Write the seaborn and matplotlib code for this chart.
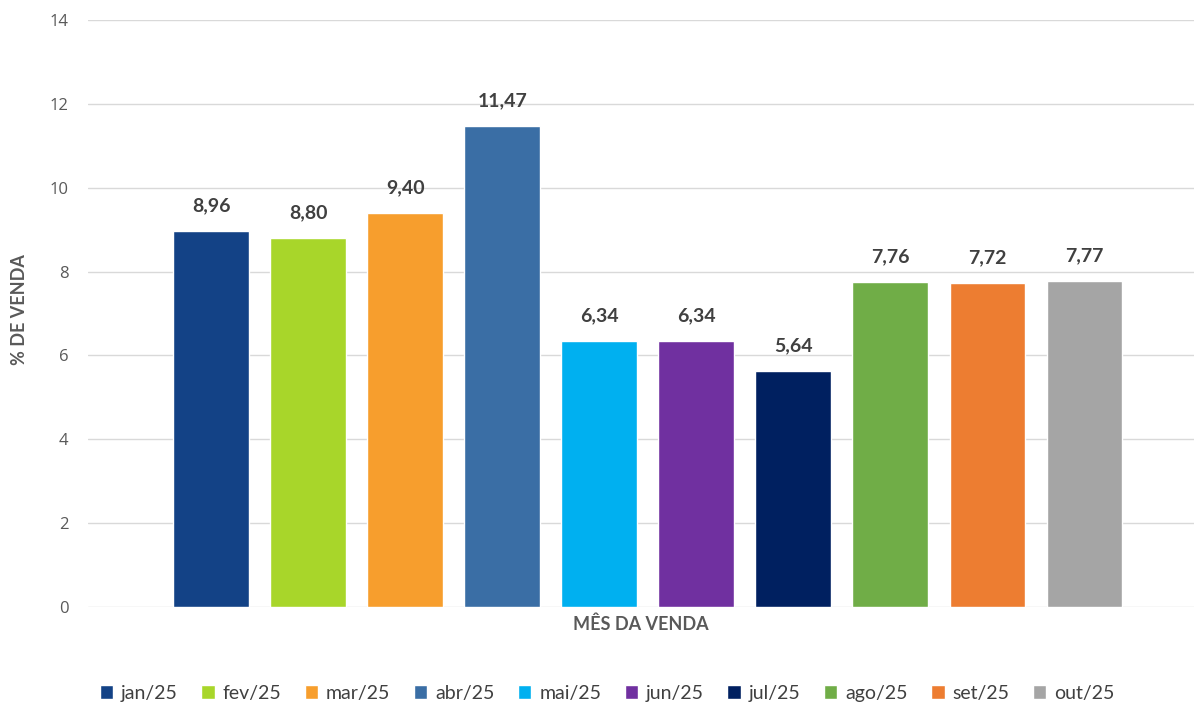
import matplotlib
matplotlib.use("Agg")
import matplotlib.pyplot as plt
from matplotlib.patches import Patch
import seaborn as sns
import pandas as pd

# Dados do gráfico
meses = ["jan/25", "fev/25", "mar/25", "abr/25", "mai/25",
         "jun/25", "jul/25", "ago/25", "set/25", "out/25"]
pct_venda = [8.96, 8.80, 9.40, 11.47, 6.34, 6.34, 5.64, 7.76, 7.72, 7.77]
cores = ["#134286", "#A8D62A", "#F79E2D", "#3A6EA5", "#00B0F0",
         "#7030A0", "#002060", "#70AD47", "#ED7D31", "#A5A5A5"]

sns.set_style("white")
plt.rcParams["font.family"] = ["Lato", "DejaVu Sans"]

df = pd.DataFrame({"mes": meses, "pct": pct_venda})
paleta = dict(zip(meses, cores))

fig = plt.figure(figsize=(11.94, 7.05), dpi=100)
ax = fig.add_axes([88 / 1194, 98 / 705, 1 - 88 / 1194, (607 - 20) / 705])

sns.barplot(data=df, x="mes", y="pct", hue="mes", palette=paleta,
            dodge=False, legend=False, width=0.78, saturation=1, ax=ax)

# Rótulos de dados
for i, v in enumerate(pct_venda):
    ax.text(i, v + 0.4, f"{v:.2f}".replace(".", ","), ha="center", va="bottom",
            fontsize=14, fontweight="bold", color="#404040")

ax.set_ylim(0, 14)
ax.set_yticks(range(0, 15, 2))
ax.set_xlim(-1.27, 10.13)
ax.yaxis.grid(True, color="#D9D9D9", linewidth=1)
ax.set_axisbelow(True)
ax.set_xticks([])
for s in ax.spines.values():
    s.set_visible(False)
ax.tick_params(axis="y", labelsize=12, labelcolor="#595959", length=0, pad=14)
for lbl in ax.get_yticklabels():
    lbl.set_family(["Open Sans", "DejaVu Sans"])

ax.set_xlabel("MÊS DA VENDA", fontsize=13, fontweight="bold", color="#595959", labelpad=6)
ax.set_ylabel("")
fig.text(20 / 1194, 1 - 310 / 705, "% DE VENDA", rotation=90, ha="center", va="center",
         fontsize=13, fontweight="bold", color="#595959")

handles = [Patch(facecolor=c, label=m) for m, c in zip(meses, cores)]
fig.legend(handles=handles, loc="center", bbox_to_anchor=(607 / 1194, 1 - 693 / 705),
           ncol=10, frameon=False, fontsize=14, handlelength=0.7, handleheight=0.7,
           handletextpad=0.4, columnspacing=1.2, labelcolor="#404040")

fig.savefig("out.png", dpi=100)
